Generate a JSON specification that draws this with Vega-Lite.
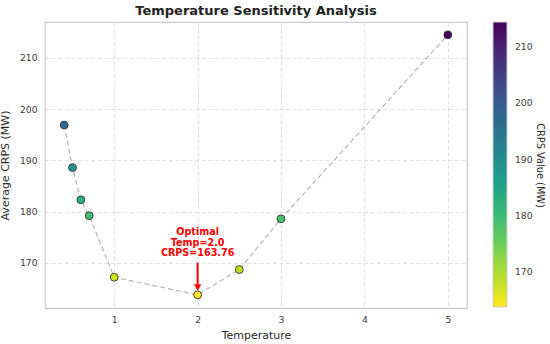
{
  "$schema": "https://vega.github.io/schema/vega-lite/v6.json",
  "width": 422,
  "height": 286,
  "autosize": {"type": "none"},
  "padding": {"left": 45, "top": 22, "right": 83, "bottom": 36},
  "background": "white",
  "config": {
    "font": "DejaVu Sans",
    "view": {"stroke": "#cccccc", "strokeWidth": 1.25},
    "axis": {
      "labelFont": "DejaVu Sans",
      "titleFont": "DejaVu Sans",
      "labelFontSize": 9.2,
      "labelColor": "#3a3a3a",
      "titleColor": "#2a2a2a",
      "titleFontSize": 11,
      "titleFontWeight": "normal",
      "ticks": false,
      "domain": false,
      "gridColor": "#dddddd",
      "gridDash": [4, 2.5],
      "gridWidth": 0.9
    }
  },
  "title": {
    "text": "Temperature Sensitivity Analysis",
    "fontSize": 13,
    "fontWeight": "bold",
    "font": "DejaVu Sans",
    "color": "#222222",
    "anchor": "middle",
    "offset": 4
  },
  "datasets": {
    "pts": [
      {"temp": 0.4, "crps": 196.9},
      {"temp": 0.5, "crps": 188.6},
      {"temp": 0.6, "crps": 182.3},
      {"temp": 0.7, "crps": 179.2},
      {"temp": 1.0, "crps": 167.2},
      {"temp": 2.0, "crps": 163.76},
      {"temp": 2.5, "crps": 168.7},
      {"temp": 3.0, "crps": 178.6},
      {"temp": 5.0, "crps": 214.5}
    ],
    "ann": [
      {"temp": 2.0, "ytext": 176.0, "yarrow": 170.06, "yarrowEnd": 165.8, "yhead": 165.2, "label": "Optimal\nTemp=2.0\nCRPS=163.76"}
    ]
  },
  "resolve": {"scale": {"y": "independent"}},
  "layer": [
    {
      "layer": [
        {
          "data": {"name": "pts"},
          "mark": {"type": "line", "color": "#b5b5b5", "strokeDash": [5, 3], "strokeWidth": 1.2},
          "encoding": {
            "x": {"field": "temp", "type": "quantitative", "scale": {"domain": [0.17, 5.23], "nice": false, "zero": false},
              "axis": {"title": "Temperature", "values": [1, 2, 3, 4, 5], "format": "d", "labelPadding": 7, "titlePadding": 5, "grid": true}},
            "y": {"field": "crps", "type": "quantitative", "scale": {"domain": [161.2, 217.0], "nice": false, "zero": false},
              "axis": {"title": "Average CRPS (MW)", "values": [170, 180, 190, 200, 210], "format": "d", "labelPadding": 8, "titlePadding": 9, "grid": true}},
            "order": {"field": "temp"}
          }
        },
        {
          "data": {"name": "pts"},
          "mark": {"type": "circle", "size": 62, "stroke": "#333333", "strokeWidth": 0.9, "opacity": 1},
          "encoding": {
            "x": {"field": "temp", "type": "quantitative"},
            "y": {"field": "crps", "type": "quantitative"},
            "color": {
              "field": "crps",
              "type": "quantitative",
              "scale": {"scheme": "viridis", "reverse": true, "domain": [163.76, 214.5]},
              "legend": {
                "title": null,
                "orient": "none",
                "legendX": 448,
                "legendY": 0,
                "direction": "vertical",
                "gradientLength": 285,
                "gradientThickness": 14,
                "gradientStrokeColor": "#cccccc",
                "gradientStrokeWidth": 1,
                "values": [170, 180, 190, 200, 210],
                "labelFont": "DejaVu Sans",
                "labelFontSize": 9.2,
                "labelColor": "#3a3a3a",
                "labelOffset": 8,
                "padding": 0
              }
            }
          }
        },
        {
          "data": {"name": "ann"},
          "mark": {"type": "rule", "color": "#ff0000", "strokeWidth": 2},
          "encoding": {
            "x": {"field": "temp", "type": "quantitative"},
            "y": {"field": "yarrow", "type": "quantitative"},
            "y2": {"field": "yarrowEnd"}
          }
        },
        {
          "data": {"name": "ann"},
          "mark": {"type": "point", "shape": "triangle-down", "filled": true, "color": "#ff0000", "size": 55, "opacity": 1},
          "encoding": {
            "x": {"field": "temp", "type": "quantitative"},
            "y": {"field": "yhead", "type": "quantitative"}
          }
        },
        {
          "data": {"name": "ann"},
          "mark": {"type": "text", "color": "#ff0000", "fontWeight": "bold", "fontSize": 9.6, "font": "DejaVu Sans", "align": "center", "baseline": "middle", "lineBreak": "\n", "lineHeight": 10.6},
          "encoding": {
            "x": {"field": "temp", "type": "quantitative"},
            "y": {"field": "ytext", "type": "quantitative"},
            "text": {"field": "label"}
          }
        }
      ]
    },
    {
      "data": {"name": "pts"},
      "mark": {"type": "point", "opacity": 0},
      "encoding": {
        "x": {"field": "temp", "type": "quantitative"},
        "y": {"field": "crps", "type": "quantitative", "scale": {"domain": [161.2, 217.0], "nice": false, "zero": false},
          "axis": {"orient": "right", "title": "CRPS Value (MW)", "titleFontSize": 9.8, "labels": false, "grid": false, "titlePadding": 67}}
      }
    }
  ]
}
